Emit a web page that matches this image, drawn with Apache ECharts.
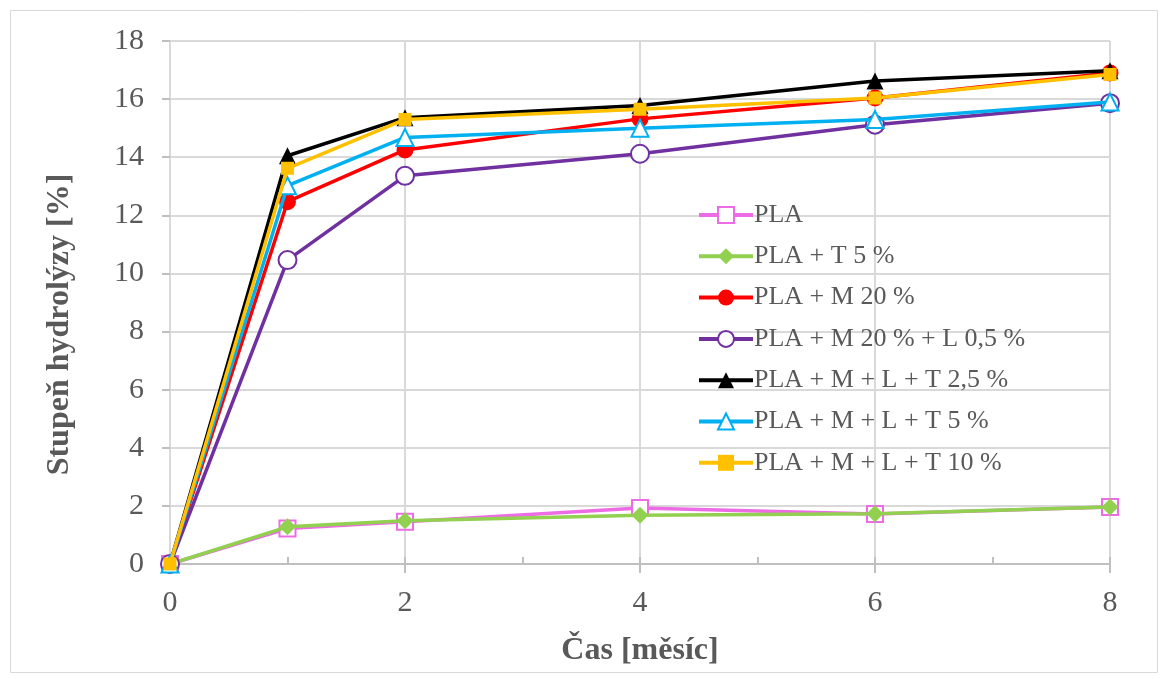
<!DOCTYPE html>
<html><head><meta charset="utf-8">
<script src="https://cdn.jsdelivr.net/npm/echarts@6/dist/echarts.min.js"></script>
<style>html,body{margin:0;padding:0;background:#fff}#c{width:1165px;height:679px}</style>
</head><body><div id="c"></div>
<script>
const months = [0, 1, 2, 4, 6, 8];
const seriesNames = ['PLA', 'PLA + T 5 %', 'PLA + M 20 %', 'PLA + M 20 % + L 0,5 %', 'PLA + M + L + T 2,5 %', 'PLA + M + L + T 5 %', 'PLA + M + L + T 10 %'];
const pla      = [0, 1.22, 1.45, 1.93, 1.72, 1.96];
const plaT5    = [0, 1.28, 1.49, 1.68, 1.73, 1.96];
const plaM20   = [0, 12.47, 14.25, 15.32, 16.04, 16.90];
const plaM20L  = [0, 10.46, 13.36, 14.12, 15.12, 15.86];
const plaMLT25 = [0, 14.05, 15.36, 15.78, 16.62, 16.98];
const plaMLT5  = [0, 13.02, 14.68, 15.00, 15.30, 15.90];
const plaMLT10 = [0, 13.62, 15.30, 15.65, 16.04, 16.85];
const yTicks = [0, 2, 4, 6, 8, 10, 12, 14, 16, 18];
const xTicks = [0, 2, 4, 6, 8];

const values = [pla, plaT5, plaM20, plaM20L, plaMLT25, plaMLT5, plaMLT10];
const colors = ['#EE6BE6', '#92D050', '#FF0000', '#7030A0', '#000000', '#00B0F0', '#FFC000'];
const symbols = ['rect', 'diamond', 'circle', 'circle', 'triangle', 'triangle', 'rect'];
const sizes = [16, 17, 17, 18, 17, 17, 13];
const hollow = [true, false, false, true, false, true, false];

const font = 'Liberation Serif, Times New Roman, serif';
const chart = echarts.init(document.getElementById('c'), null, {renderer: 'canvas'});
const series = seriesNames.map((n, i) => ({
  name: n, type: 'line',
  data: months.map((m, j) => [m, values[i][j]]),
  symbol: symbols[i], symbolSize: sizes[i],
  lineStyle: {color: colors[i], width: 3.5},
  itemStyle: hollow[i] ? {color: '#fff', borderColor: colors[i], borderWidth: 2, opacity: 1} : {color: colors[i], borderWidth: 0},
  emphasis: {disabled: true},
  z: 2 + i
}));
chart.setOption({
  animation: false,
  backgroundColor: '#fff',
  graphic: [{type: 'rect', shape: {x: 10.5, y: 10.5, width: 1147, height: 662}, style: {fill: 'none', stroke: '#d9d9d9', lineWidth: 1}, silent: true}],
  grid: {left: 170, right: 55, top: 41, bottom: 115},
  legend: {
    orient: 'vertical', left: 697, top: 202, padding: 0, itemWidth: 54, itemHeight: 20, itemGap: 15.3,
    data: seriesNames,
    lineStyle: {width: 4},
    textStyle: {fontFamily: font, fontSize: 26, color: '#595959', padding: [0, 0, 0, -4]},
    inactiveColor: '#ccc'
  },
  xAxis: [{
    type: 'value', min: 0, max: 8, interval: 2,
    name: 'Čas [měsíc]', nameLocation: 'middle', nameGap: 71,
    nameTextStyle: {fontFamily: font, fontSize: 32, fontWeight: 'bold', color: '#595959'},
    axisLine: {show: true, lineStyle: {color: '#bfbfbf', width: 2}},
    axisTick: {show: true, length: 9, lineStyle: {color: '#bfbfbf', width: 2}},
    axisLabel: {fontFamily: font, fontSize: 30, color: '#595959', margin: 24,
      formatter: v => xTicks.includes(v) ? String(v) : ''},
    splitLine: {show: true, lineStyle: {color: '#d9d9d9', width: 2}}
  }, {
    type: 'value', min: 0, max: 8, interval: 1, position: 'bottom', gridIndex: 0,
    axisLine: {show: false}, axisLabel: {show: false}, splitLine: {show: false},
    axisTick: {show: true, inside: true, length: 7, lineStyle: {color: '#bfbfbf', width: 2}}
  }],
  yAxis: [{
    type: 'value', min: 0, max: 18, interval: 2,
    name: 'Stupeň hydrolýzy [%]', nameLocation: 'middle', nameGap: 94,
    nameTextStyle: {fontFamily: font, fontSize: 32, fontWeight: 'bold', color: '#595959', padding: [0, 44, 0, 0]},
    axisLine: {show: false},
    axisTick: {show: true, length: 8, lineStyle: {color: '#bfbfbf', width: 2}},
    axisLabel: {fontFamily: font, fontSize: 30, color: '#595959', margin: 26,
      formatter: v => yTicks.includes(v) ? String(v) : ''},
    splitLine: {show: true, lineStyle: {color: '#d9d9d9', width: 2}}
  }],
  series: series
});
</script></body></html>
